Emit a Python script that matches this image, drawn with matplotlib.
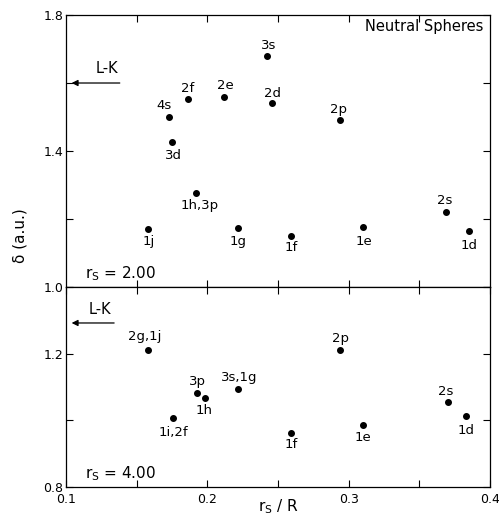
import matplotlib
matplotlib.use('Agg')
import matplotlib.pyplot as plt

# r_s = 2.00 panel
top_lbl = ['4s', '3d', '2f', '2e', '1h,3p', '1j', '1g', '3s', '2d', '2p', '2s', '1d', '1e', '1f']
top_x = [0.173, 0.175, 0.186, 0.212, 0.192, 0.158, 0.222, 0.242, 0.246, 0.294, 0.369, 0.385, 0.310, 0.259]
top_y = [1.501, 1.425, 1.552, 1.560, 1.277, 1.171, 1.173, 1.680, 1.541, 1.490, 1.221, 1.164, 1.176, 1.150]

# r_s = 4.00 panel
bot_lbl = ['2g,1j', '3p', '1h', '1i,2f', '3s,1g', '2p', '2s', '1d', '1e', '1f']
bot_x = [0.158, 0.193, 0.198, 0.176, 0.222, 0.294, 0.370, 0.383, 0.310, 0.259]
bot_y = [1.212, 1.082, 1.068, 1.008, 1.093, 1.210, 1.054, 1.012, 0.985, 0.963]

lk_top = 1.60
lk_bot = 1.292

# label offsets in pixels (dx, dy)
top_off = [(-5, 11), (1, -13), (0, 11), (1, 11), (4, -13), (1, -13), (0, -13), (2, 10), (0, 10), (-2, 11), (-2, 11), (0, -14), (1, -14), (0, -12)]
bot_off = [(-3, 13), (0, 11), (0, -13), (0, -15), (1, 12), (0, 12), (-2, 11), (0, -14), (0, -12), (0, -12)]

fig = plt.figure(figsize=(4.99, 5.18), dpi=100)
ax1 = fig.add_axes([0.1323, 0.446, 0.8497, 0.525])
ax2 = fig.add_axes([0.1323, 0.0598, 0.8497, 0.3862])

fs = 9.5
for ax, xs, ys, lbls, offs in [(ax1, top_x, top_y, top_lbl, top_off), (ax2, bot_x, bot_y, bot_lbl, bot_off)]:
    ax.plot(xs, ys, 'o', color='black', ms=4)
    for x, y, t, (dx, dy) in zip(xs, ys, lbls, offs):
        ax.annotate(t, (x, y), xytext=(dx, dy), textcoords='offset pixels',
                    ha='center', va='center', fontsize=fs)
    ax.set_xlim(0.1, 0.4)
    ax.tick_params(direction='in', top=True, right=True, length=5, labelsize=9, width=0.8)
    ax.tick_params(axis='y', pad=2)
    ax.tick_params(axis='x', pad=4)
    for s in ax.spines.values():
        s.set_linewidth(0.9)

ax1.set_ylim(1.0, 1.8)
ax1.set_yticks([1.0, 1.2, 1.4, 1.6, 1.8])
ax1.set_yticklabels(['1.0', '', '1.4', '', '1.8'])
ax1.set_xticks([0.15, 0.2, 0.25, 0.3, 0.35])
ax1.set_xticklabels([])

ax2.set_ylim(0.8, 1.4)
ax2.set_yticks([0.8, 1.0, 1.2, 1.4])
ax2.set_yticklabels(['0.8', '', '1.2', ''])
ax2.set_xticks([0.1, 0.15, 0.2, 0.25, 0.3, 0.35, 0.4])
ax2.set_xticklabels(['0.1', '', '0.2', '', '0.3', '', '0.4'])

# L-K arrows
ax1.annotate('', xy=(0.102, lk_top), xytext=(0.140, lk_top),
             arrowprops=dict(arrowstyle='-|>', color='black', lw=0.9, mutation_scale=9))
ax1.text(0.129, lk_top + 0.02, 'L-K', ha='center', va='bottom', fontsize=10.5)
ax2.annotate('', xy=(0.102, lk_bot), xytext=(0.136, lk_bot),
             arrowprops=dict(arrowstyle='-|>', color='black', lw=0.9, mutation_scale=9))
ax2.text(0.124, lk_bot + 0.018, 'L-K', ha='center', va='bottom', fontsize=10.5)

ax1.text(0.985, 0.985, 'Neutral Spheres', transform=ax1.transAxes, ha='right', va='top', fontsize=10.5)
ax1.text(0.045, 0.015, r'r$_\mathrm{S}$ = 2.00', transform=ax1.transAxes, ha='left', va='bottom', fontsize=11)
ax2.text(0.045, 0.02, r'r$_\mathrm{S}$ = 4.00', transform=ax2.transAxes, ha='left', va='bottom', fontsize=11)

fig.text(0.557, 0.004, r'r$_\mathrm{S}$ / R', ha='center', va='bottom', fontsize=11)
fig.text(0.04, 0.546, 'δ (a.u.)', rotation=90, ha='center', va='center', fontsize=11)

fig.savefig('out.png', dpi=100)
